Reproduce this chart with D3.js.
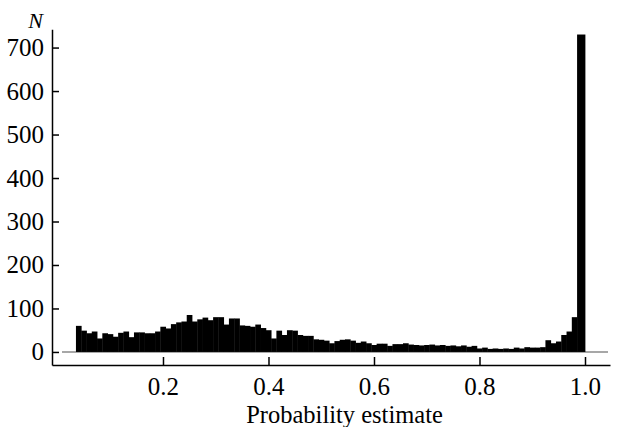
<!DOCTYPE html>
<html>
<head>
<meta charset="utf-8">
<script src="https://cdn.jsdelivr.net/npm/d3@7"></script>
<style>
  html, body { margin: 0; padding: 0; background: #fff; }
  svg { display: block; }
  text { font-family: "Liberation Serif", "DejaVu Serif", serif; fill: #000; }
</style>
</head>
<body>
<svg id="chart" width="619" height="427"></svg>
<script>
// Histogram of probability estimates: bins 0.01 wide starting at 0.035,
// the final bin closing at 1.0.
const binFirstEdge = 0.035;
const binWidth = 0.01;
const lastEdge = 1.0;
const counts = [
  60, 49, 43, 47, 31, 43, 41, 35, 44, 47,
  34, 45, 45, 43, 43, 47, 58, 54, 64, 68,
  70, 85, 70, 75, 79, 73, 80, 80, 63, 77,
  77, 61, 60, 58, 63, 55, 50, 31, 49, 39,
  50, 49, 39, 37, 37, 29, 28, 26, 20, 25,
  28, 29, 26, 21, 24, 20, 16, 19, 19, 14,
  18, 18, 20, 17, 16, 15, 16, 17, 15, 16,
  14, 15, 13, 15, 12, 14, 8, 10, 7, 8,
  7, 8, 7, 10, 8, 11, 10, 10, 11, 27,
  20, 24, 39, 47, 80, 730
];
const xTicks = [0.2, 0.4, 0.6, 0.8, 1.0];
const yTicks = [0, 100, 200, 300, 400, 500, 600, 700];
const xTitle = "Probability estimate";
const yTitle = "N";

const edges = counts.map((_, i) => binFirstEdge + i * binWidth);
edges.push(lastEdge);
const bins = counts.map((c, i) => ({ x0: edges[i], x1: edges[i + 1], n: c }));

const svg = d3.select("#chart");

const x = d3.scaleLinear().domain([-0.0104, 1.0474]).range([52, 610]);
const y = d3.scaleLinear().domain([-30, 742]).range([365, 29.3]);

// zero reference line
svg.append("line")
  .attr("x1", x.range()[0] + 10).attr("x2", x.range()[1] - 2)
  .attr("y1", y(0)).attr("y2", y(0))
  .attr("stroke", "#8a8a8a").attr("stroke-width", 1.6);

// bars
svg.append("g").selectAll("rect").data(bins).join("rect")
  .attr("x", d => x(d.x0))
  .attr("width", d => x(d.x1) - x(d.x0) + 0.4)
  .attr("y", d => y(d.n))
  .attr("height", d => y(0) - y(d.n))
  .attr("fill", "#000");

// y axis (ticks point inward)
const gy = svg.append("g")
  .attr("transform", `translate(${x.range()[0]},0)`)
  .call(d3.axisLeft(y).tickValues(yTicks).tickFormat(d3.format("d"))
    .tickSizeInner(-7).tickSizeOuter(0).tickPadding(8));

// x axis (ticks point inward)
const gx = svg.append("g")
  .attr("transform", `translate(0,${y.range()[0]})`)
  .call(d3.axisBottom(x).tickValues(xTicks).tickFormat(d3.format(".1f"))
    .tickSizeInner(-8).tickSizeOuter(0).tickPadding(12));

[gx, gy].forEach(g => {
  g.select(".domain").attr("stroke", "#000").attr("stroke-width", 1.5);
  g.selectAll(".tick line").attr("stroke", "#000").attr("stroke-width", 1.5);
  g.selectAll(".tick text")
    .attr("font-family", "Liberation Serif, serif")
    .attr("font-size", 25).attr("fill", "#000");
});

// axis titles
svg.append("text")
  .attr("x", 344.5).attr("y", 423)
  .attr("text-anchor", "middle")
  .attr("font-size", 24.5)
  .text(xTitle);

svg.append("text")
  .attr("x", 43).attr("y", 28)
  .attr("text-anchor", "end")
  .attr("font-size", 22)
  .attr("font-style", "italic")
  .text(yTitle);
</script>
</body>
</html>
